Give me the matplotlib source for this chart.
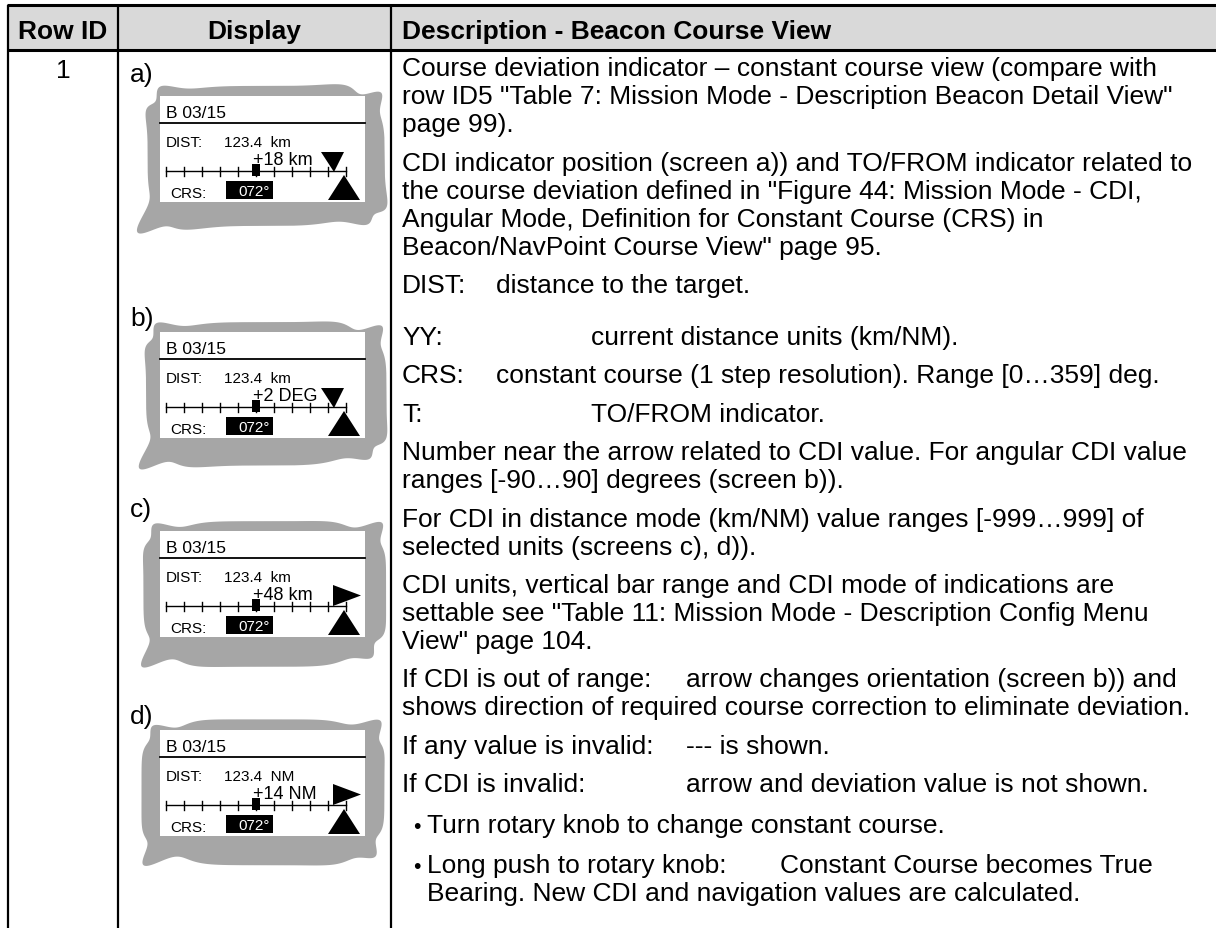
import numpy as np
import matplotlib.pyplot as plt
from matplotlib.patches import Rectangle, Polygon

plt.rcParams['font.family'] = ['Liberation Sans', 'DejaVu Sans']

# table content
col_headers = ["Row ID", "Display", "Description - Beacon Course View"]
row_id = "1"

screen_labels = ["a)", "b)", "c)", "d)"]
screen_title = "B 03/15"
screen_dist = ["123.4  km", "123.4  km", "123.4  km", "123.4  NM"]
screen_cdi = ["+18 km", "+2 DEG", "+48 km", "+14 NM"]
screen_arrow = ["down", "down", "right", "right"]
screen_crs = "072\u00b0"

desc_paragraphs = [
    ["Course deviation indicator \u2013 constant course view (compare with",
     'row ID5 "Table 7: Mission Mode - Description Beacon Detail View"',
     "page 99)."],
    ["CDI indicator position (screen a)) and TO/FROM indicator related to",
     'the course deviation defined in "Figure 44: Mission Mode - CDI,',
     "Angular Mode, Definition for Constant Course (CRS) in",
     'Beacon/NavPoint Course View" page 95.'],
    ["DIST:\tdistance to the target."],
    ["YY:\t\tcurrent distance units (km/NM)."],
    ["CRS:\tconstant course (1 step resolution). Range [0\u2026359] deg."],
    ["T:\t\tTO/FROM indicator."],
    ["Number near the arrow related to CDI value. For angular CDI value",
     "ranges [-90\u202690] degrees (screen b))."],
    ["For CDI in distance mode (km/NM) value ranges [-999\u2026999] of",
     "selected units (screens c), d))."],
    ["CDI units, vertical bar range and CDI mode of indications are",
     'settable see "Table 11: Mission Mode - Description Config Menu',
     'View" page 104.'],
    ["If CDI is out of range:\tarrow changes orientation (screen b)) and",
     "shows direction of required course correction to eliminate deviation."],
    ["If any value is invalid:\t--- is shown."],
    ["If CDI is invalid:\t\tarrow and deviation value is not shown."],
    ["\u2022Turn rotary knob to change constant course."],
    ["\u2022Long push to rotary knob:\tConstant Course becomes True",
     "Bearing. New CDI and navigation values are calculated."],
]

# layout (pixels)
W, H = 1216, 929
FS = 19
col_x = [8, 118, 391]
top_y, head_y = 6, 51
text_x = 402
tab_step = 94.5
line_step = 28
para_gap = 38.5

fig = plt.figure(figsize=(W / 100, H / 100), dpi=100)
ax = fig.add_axes([0, 0, 1, 1])
ax.set_xlim(0, W)
ax.set_ylim(H, 0)
ax.axis('off')
renderer = fig.canvas.get_renderer()

# header
ax.add_patch(Rectangle((col_x[0], top_y), W - col_x[0], head_y - top_y, facecolor='#d9d9d9', edgecolor='none'))
ax.plot([col_x[0] - 1, W], [top_y, top_y], color='black', lw=2.2, solid_capstyle='butt')
ax.plot([col_x[0] - 1, W], [head_y, head_y], color='black', lw=2.2, solid_capstyle='butt')
for x in col_x:
    ax.plot([x, x], [top_y, H], color='black', lw=1.6, solid_capstyle='butt')
ax.text((col_x[0] + col_x[1]) / 2, 39, col_headers[0], fontsize=FS, fontweight='bold', ha='center', va='baseline')
ax.text((col_x[1] + col_x[2]) / 2, 39, col_headers[1], fontsize=FS, fontweight='bold', ha='center', va='baseline')
ax.text(text_x, 39, col_headers[2], fontsize=FS, fontweight='bold', ha='left', va='baseline')

ax.text((col_x[0] + col_x[1]) / 2, 78, row_id, fontsize=FS, ha='center', va='baseline')


def right_edge(t):
    bb = t.get_window_extent(renderer=renderer)
    return ax.transData.inverted().transform((bb.x1, bb.y1))[0]


def draw_line(x, y, line):
    parts = line.split('\t')
    for k, part in enumerate(parts):
        if part != '':
            t = ax.text(x, y, part, fontsize=FS, ha='left', va='baseline')
            x = right_edge(t)
        if k < len(parts) - 1:
            x = text_x + tab_step * np.ceil((x - text_x + 1) / tab_step)


# description column
y = 76
for p, para in enumerate(desc_paragraphs):
    if p == 3:
        y += 13
    if p >= 12:
        y += 2
    for j, line in enumerate(para):
        x = text_x
        if line.startswith('\u2022'):
            ax.text(413, y, '\u2022', fontsize=FS * 0.8, ha='left', va='baseline')
            line = line[1:]
            x = 427
        elif para[0].startswith('\u2022'):
            x = 427
        draw_line(x, y, line)
        if j < len(para) - 1:
            y += line_step
    y += para_gap


def draw_screen(x0, yb, i):
    w, h = 205, 106
    top = yb - 21
    # grey blob behind the display
    th = np.linspace(0, 2 * np.pi, 600)
    n = 7
    cs = np.sign(np.cos(th)) * np.abs(np.cos(th)) ** (2 / n)
    sn = np.sign(np.sin(th)) * np.abs(np.sin(th)) ** (2 / n)
    d = 3.0 * np.sin(8 * th + 0.6 * i) + 2.0 * np.sin(3 * th + 1 + i)
    d += 13 * np.exp(-((th - 2.45) / 0.3) ** 2)
    d += 4 * np.exp(-((th - 5.6) / 0.25) ** 2)
    cx = x0 + w / 2 + 2
    cy = top + h / 2 + 8
    a = w / 2 + 16
    b = h / 2 + 17
    bx = cx + (a + d) * cs
    by = cy + (b + d) * sn
    ax.add_patch(Polygon(np.column_stack([bx, by]), closed=True, facecolor='#a6a6a6', edgecolor='none'))
    ax.add_patch(Rectangle((x0, top), w, h, facecolor='white', edgecolor='none'))

    ax.text(x0 + 6, yb, screen_title, fontsize=12.5, va='baseline')
    ax.plot([x0, x0 + w], [yb + 6, yb + 6], color='black', lw=1.3)
    ax.text(x0 + 6, yb + 29, "DIST:", fontsize=11, va='baseline')
    ax.text(x0 + 64, yb + 29, screen_dist[i], fontsize=11, va='baseline')
    ax.text(x0 + 93, yb + 47, screen_cdi[i], fontsize=13, va='baseline')

    # CDI scale bar
    ys = yb + 54
    ticks = np.linspace(x0 + 6, x0 + 186, 11)
    ax.plot([ticks[0], ticks[-1]], [ys, ys], color='black', lw=1.0)
    for tx in ticks:
        ax.plot([tx, tx], [ys - 4.5, ys + 4.5], color='black', lw=1.0)
    ax.add_patch(Rectangle((ticks[5] - 4, ys - 7), 8, 12, facecolor='black', edgecolor='none'))

    if screen_arrow[i] == 'down':
        tri = [(x0 + 161, yb + 35), (x0 + 184, yb + 35), (x0 + 174, yb + 55)]
    else:
        tri = [(x0 + 173, yb + 33), (x0 + 173, yb + 54), (x0 + 201, yb + 43.5)]
    ax.add_patch(Polygon(tri, closed=True, facecolor='black', edgecolor='none'))
    ax.add_patch(Polygon([(x0 + 168, yb + 83), (x0 + 200, yb + 83), (x0 + 184, yb + 58)],
                         closed=True, facecolor='black', edgecolor='none'))

    ax.text(x0 + 10, yb + 80, "CRS:", fontsize=11, va='baseline')
    ax.add_patch(Rectangle((x0 + 66, yb + 64), 47, 18, facecolor='black', edgecolor='none'))
    ax.text(x0 + 110, yb + 78, screen_crs, fontsize=11, color='white', ha='right', va='baseline')


label_y = [82, 326, 517, 724]
screen_y = [118, 354, 553, 752]
for i, lab in enumerate(screen_labels):
    ax.text(130, label_y[i], lab, fontsize=FS, ha='left', va='baseline')
    draw_screen(160, screen_y[i], i)

fig.savefig('out.png', dpi=100)
